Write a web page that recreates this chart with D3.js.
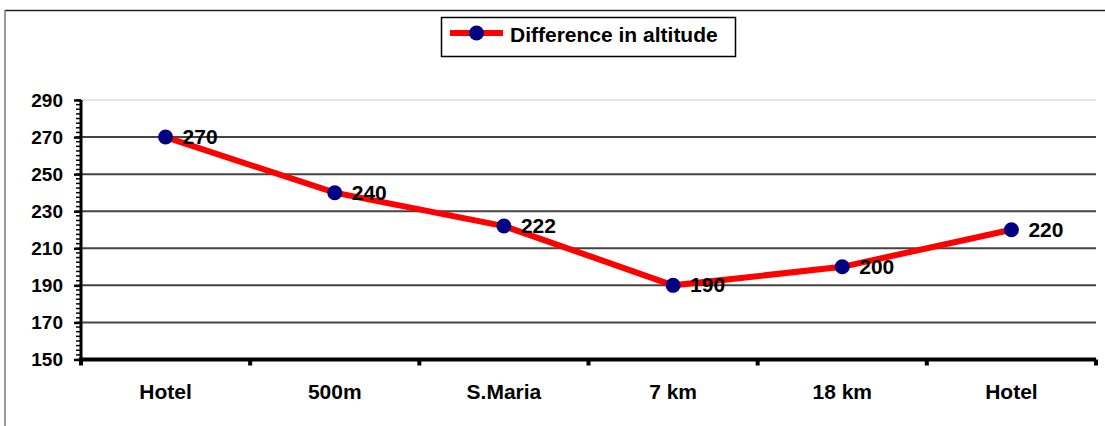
<!DOCTYPE html>
<html>
<head>
<meta charset="utf-8">
<script src="https://cdn.jsdelivr.net/npm/d3@7"></script>
<style>
  body { margin: 0; background: #fff; }
  text { font-family: "Liberation Sans", Arial, sans-serif; font-weight: bold; }
</style>
</head>
<body>
<svg></svg>
<script>
"use strict";

var categories = ["Hotel", "500m", "S.Maria", "7 km", "18 km", "Hotel"];
var altitude = [270, 240, 222, 190, 200, 220];
var yTicks = [150, 170, 190, 210, 230, 250, 270, 290];
var seriesName = "Difference in altitude";

var width = 1105,
    height = 426;

var svg = d3.select("svg")
    .attr("width", width)
    .attr("height", height);

// outer chart border (only top and left visible)
svg.append("line").attr("x1", 5).attr("x2", width).attr("y1", 10.5).attr("y2", 10.5)
    .attr("stroke", "#222").attr("stroke-width", 1.5);
svg.append("line").attr("x1", 5).attr("x2", 5).attr("y1", 10).attr("y2", height)
    .attr("stroke", "#777").attr("stroke-width", 1.5);

var plotLeft = 81, plotRight = 1096, plotTop = 100, plotBottom = 359.5;

var x = d3.scaleBand()
    .domain(d3.range(categories.length))
    .range([plotLeft, plotRight]);

var y = d3.scaleLinear()
    .domain([150, 290])
    .range([plotBottom, plotTop]);

// gridlines
svg.append("g").selectAll("line")
    .data(yTicks.filter(function (d) { return d > 150; }))
    .enter().append("line")
    .attr("x1", plotLeft).attr("x2", plotRight)
    .attr("y1", function (d) { return y(d); })
    .attr("y2", function (d) { return y(d); })
    .attr("stroke", function (d) { return d === 290 ? "#ccc" : "#444"; })
    .attr("stroke-width", function (d) { return d === 290 ? 1 : 2; });

// y axis: minor ticks
svg.append("g").selectAll("line")
    .data(d3.range(150, 290.01, 2.5))
    .enter().append("line")
    .attr("x1", plotLeft - 5).attr("x2", plotLeft)
    .attr("y1", function (d) { return y(d); })
    .attr("y2", function (d) { return y(d); })
    .attr("stroke", "#000").attr("stroke-width", 1.5);

// y axis: major ticks and labels
var yAxis = svg.append("g").attr("transform", "translate(" + plotLeft + ",0)")
    .call(d3.axisLeft(y).tickValues(yTicks).tickSize(7).tickPadding(11));
yAxis.select(".domain").attr("stroke-width", 3).attr("d", "M0," + (plotBottom + 2) + "V" + plotTop);
yAxis.selectAll(".tick line").attr("stroke-width", 2.5);
yAxis.selectAll(".tick text").attr("font-size", 19).attr("fill", "#000")
    .style("font-family", "'Liberation Sans', Arial, sans-serif").style("font-weight", "bold");

// x axis
var xb = svg.append("g");
xb.append("line").attr("x1", plotLeft - 2).attr("x2", plotRight)
    .attr("y1", plotBottom).attr("y2", plotBottom)
    .attr("stroke", "#000").attr("stroke-width", 4);
xb.selectAll(".xt")
    .data(d3.range(categories.length + 1))
    .enter().append("line")
    .attr("class", "xt")
    .attr("x1", function (i) { return plotLeft + i * x.bandwidth(); })
    .attr("x2", function (i) { return plotLeft + i * x.bandwidth(); })
    .attr("y1", plotBottom).attr("y2", plotBottom + 6)
    .attr("stroke", "#000").attr("stroke-width", 4);
xb.selectAll("text")
    .data(categories)
    .enter().append("text")
    .attr("x", function (d, i) { return x(i) + x.bandwidth() / 2; })
    .attr("y", 399)
    .attr("text-anchor", "middle")
    .attr("font-size", 21)
    .text(function (d) { return d; });

// series
var cx = function (d, i) { return x(i) + x.bandwidth() / 2; };
var line = d3.line()
    .x(function (d, i) { return cx(d, i); })
    .y(function (d) { return y(d); });

svg.append("path")
    .datum(altitude)
    .attr("d", line)
    .attr("fill", "none")
    .attr("stroke", "#ff0000")
    .attr("stroke-width", 6);

svg.append("g").selectAll("circle")
    .data(altitude)
    .enter().append("circle")
    .attr("cx", cx)
    .attr("cy", function (d) { return y(d); })
    .attr("r", 7.5)
    .attr("fill", "#000080");

svg.append("g").selectAll("text")
    .data(altitude)
    .enter().append("text")
    .attr("x", function (d, i) { return cx(d, i) + 17; })
    .attr("y", function (d) { return y(d) + 7; })
    .attr("font-size", 21)
    .attr("fill", "#000")
    .text(function (d) { return d; });

// legend
var lg = svg.append("g");
lg.append("rect").attr("x", 441.5).attr("y", 17.5).attr("width", 294).attr("height", 39)
    .attr("fill", "#fff").attr("stroke", "#000").attr("stroke-width", 1.5);
lg.append("line").attr("x1", 450).attr("x2", 503).attr("y1", 33).attr("y2", 33)
    .attr("stroke", "#ff0000").attr("stroke-width", 6);
lg.append("circle").attr("cx", 476.5).attr("cy", 33).attr("r", 7.5).attr("fill", "#000080");
lg.append("text").attr("x", 510).attr("y", 42).attr("font-size", 21).text(seriesName);
</script>
</body>
</html>
